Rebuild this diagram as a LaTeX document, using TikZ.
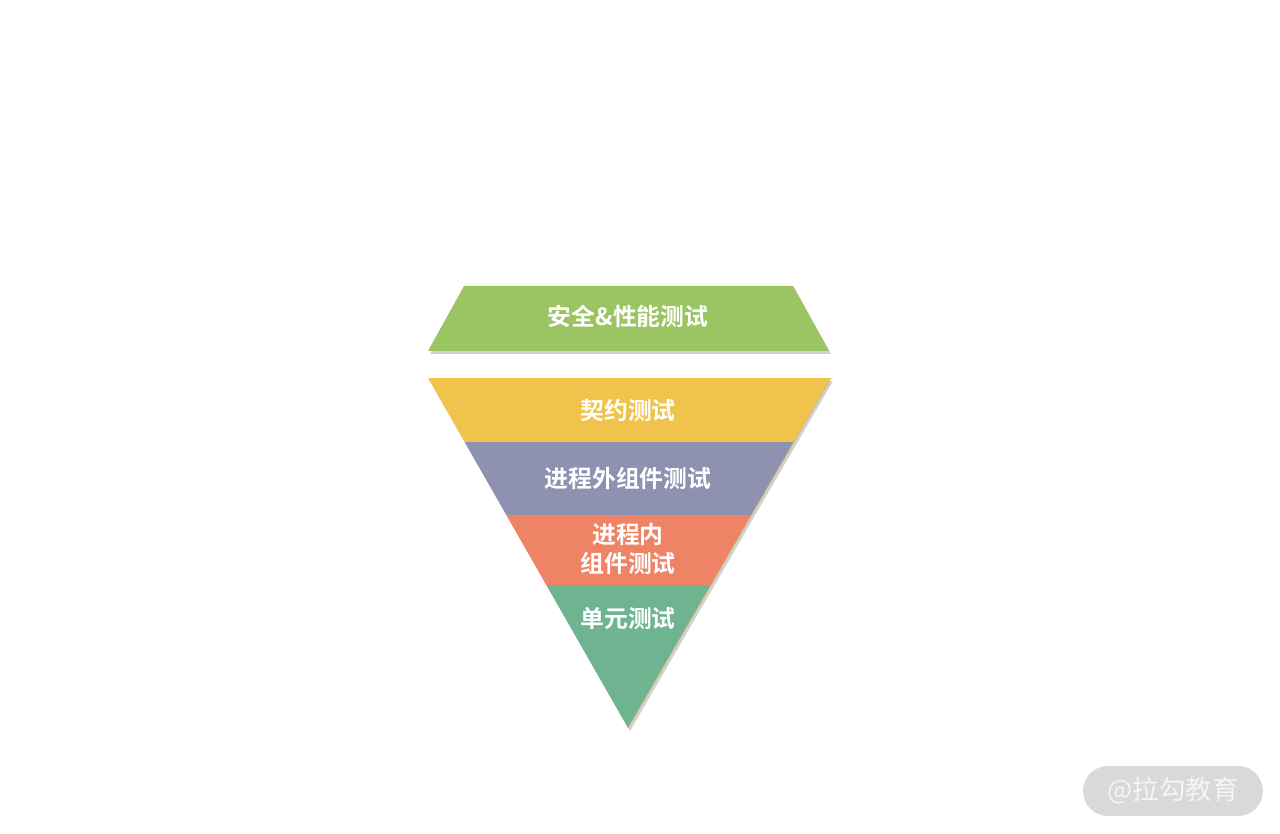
\documentclass[tikz,border=0pt]{standalone}
\usepackage{fontspec}
\newfontfamily\cjk{Noto Sans CJK SC}
\newfontfamily\cjkb{Noto Sans CJK SC Bold}
\definecolor{cGreen}{HTML}{9BC563}
\definecolor{cYellow}{HTML}{F0C44C}
\definecolor{cPurple}{HTML}{8E92B0}
\definecolor{cOrange}{HTML}{EF8366}
\definecolor{cTeal}{HTML}{6FB491}
\definecolor{cMark}{HTML}{D9D9D9}
\definecolor{cEdge}{HTML}{D2B873}
\begin{document}
\begin{tikzpicture}[x=1pt,y=-1pt,
  lbl/.style={text=white,font=\cjkb\fontsize{23.8}{29}\selectfont,align=center,inner sep=0pt},
  shade/.style={fill=black,opacity=0.18},
  band/.style={draw=none}]
\useasboundingbox (0,0) rectangle (1280,834);
% top trapezoid shadow and body
\fill[shade] (466,289) -- (795,289) -- (831,354) -- (430,354) -- cycle;
\fill[cGreen] (464,286) -- (793,286) -- (829,351) -- (428,351) -- cycle;
\node[lbl] (top) at (628,316) {安全\&性能测试};
% triangle shadow
\fill[shade] (430,381) -- (833,381) -- (630,731) -- cycle;
% bands
\fill[cYellow] (428,378) -- (831,378) -- (794,442) -- (464.6,442) -- cycle;
\fill[cPurple] (464.6,442) -- (794,442) -- (751.6,515) -- (506.3,515) -- cycle;
\fill[cOrange] (506.3,515) -- (751.6,515) -- (711,585) -- (546.3,585) -- cycle;
\fill[cTeal] (546.3,585) -- (711,585) -- (628,728) -- cycle;
\draw[cEdge,line width=0.8pt] (831,378) -- (628,728);
\node[lbl] (l1) at (628,410) {契约测试};
\node[lbl] (l2) at (628,478) {进程外组件测试};
\node[lbl] (l3) at (628,549) {进程内\\组件测试};
\node[lbl] (l4) at (628,619) {单元测试};
% watermark
\node[fill=cMark,rounded corners=25pt,minimum width=180pt,minimum height=50pt,inner sep=0pt,
  text=white!96!black,font=\cjk\fontsize{26.5}{30}\selectfont] (wm) at (1173,791) {@拉勾教育};
\end{tikzpicture}
\end{document}
